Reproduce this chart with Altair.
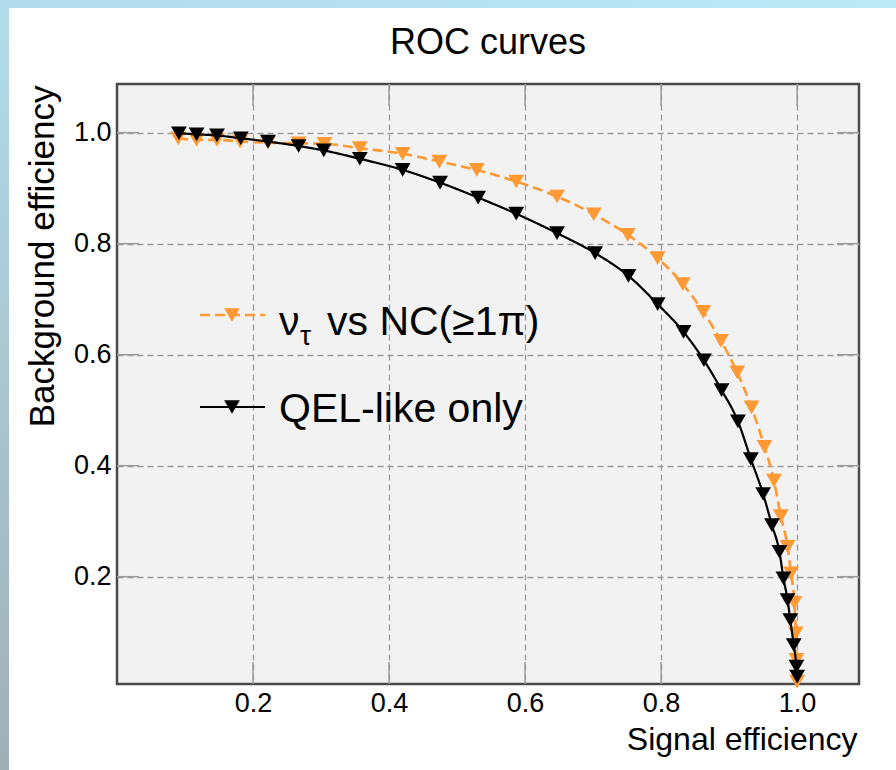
import altair as alt
import pandas as pd

# ---------------- data ----------------
series_names = ["ντ vs NC(≥1π)", "QEL-like only"]
series_colors = ["#ff9933", "#000000"]

nc_signal = [0.090, 0.117, 0.147, 0.181, 0.222, 0.267, 0.305, 0.357, 0.420, 0.474,
             0.529, 0.587, 0.647, 0.701, 0.751, 0.795, 0.832, 0.862, 0.888, 0.912,
             0.933, 0.952, 0.966, 0.976, 0.986, 0.991, 0.996, 0.998, 0.999, 1.000]
nc_background = [0.990, 0.987, 0.987, 0.984, 0.982, 0.981, 0.980, 0.972, 0.962, 0.948,
                 0.933, 0.912, 0.885, 0.853, 0.816, 0.774, 0.727, 0.677, 0.625, 0.568,
                 0.505, 0.434, 0.373, 0.309, 0.254, 0.206, 0.153, 0.098, 0.050, 0.011]

qel_signal = [0.091, 0.117, 0.147, 0.182, 0.222, 0.267, 0.304, 0.357, 0.420, 0.475,
              0.531, 0.587, 0.647, 0.703, 0.752, 0.795, 0.833, 0.863, 0.889, 0.913,
              0.932, 0.950, 0.963, 0.974, 0.980, 0.986, 0.990, 0.995, 0.999, 1.000]
qel_background = [0.999, 0.997, 0.995, 0.990, 0.984, 0.976, 0.968, 0.953, 0.933, 0.910,
                  0.883, 0.854, 0.819, 0.783, 0.742, 0.691, 0.641, 0.590, 0.536, 0.480,
                  0.412, 0.349, 0.293, 0.245, 0.197, 0.158, 0.122, 0.077, 0.038, 0.020]

x_tick_values = [0.2, 0.4, 0.6, 0.8, 1.0]
y_tick_values = [0.2, 0.4, 0.6, 0.8, 1.0]
x_domain = [0.0, 1.091]
y_domain = [0.0067, 1.0877]

# ---------------- layout / style ----------------
W, H = 742, 600
PAD = {"left": 117, "top": 84, "right": 37, "bottom": 86}
FONT = "Liberation Sans"
GRID = "#9a9a9a"
TICK_LEN = 22
MARKER = 250

xs = alt.Scale(domain=x_domain, nice=False, zero=False)
ys = alt.Scale(domain=y_domain, nice=False, zero=False)

x_axis = alt.Axis(
    values=x_tick_values, format=".1f", title="Signal efficiency",
    labelFont=FONT, labelFontSize=27, labelColor="black", labelPadding=6,
    domain=False, ticks=False, grid=True, gridDash=[6, 4], gridColor=GRID,
    gridWidth=1.3, titleFont=FONT, titleFontSize=32, titleFontWeight="normal",
    titleColor="black", titleAlign="right", titleBaseline="alphabetic",
    titleX=W - 2, titleY=65,
)
y_axis = alt.Axis(
    values=y_tick_values, format=".1f", title="Background efficiency",
    labelFont=FONT, labelFontSize=27, labelColor="black", labelPadding=6,
    domain=False, ticks=False, grid=True, gridDash=[6, 4], gridColor=GRID,
    gridWidth=1.3, titleFont=FONT, titleFontSize=35, titleFontWeight="normal",
    titleColor="black", titleAngle=270, titleAlign="right",
    titleBaseline="alphabetic", titleX=-64, titleY=1,
)

one = pd.DataFrame({"a": [0]})

# slide-like border bands
top_band = alt.Chart(one).mark_rect(
    color=alt.LinearGradient(gradient="linear", x1=0, y1=0, x2=1, y2=0,
                             stops=[alt.GradientStop(color="#b2dced", offset=0),
                                    alt.GradientStop(color="#bde8f6", offset=1)])
).encode(x=alt.value(-PAD["left"]), x2=alt.value(W + PAD["right"]),
         y=alt.value(-PAD["top"]), y2=alt.value(-PAD["top"] + 8))
left_band = alt.Chart(one).mark_rect(
    color=alt.LinearGradient(gradient="linear", x1=0, y1=0, x2=0, y2=1,
                             stops=[alt.GradientStop(color="#b2dced", offset=0),
                                    alt.GradientStop(color="#9fb0b7", offset=1)])
).encode(x=alt.value(-PAD["left"]), x2=alt.value(-PAD["left"] + 9),
         y=alt.value(-PAD["top"]), y2=alt.value(H + PAD["bottom"]))

# inward ticks (ROOT style)
xt = pd.DataFrame({"sig": x_tick_values})
yt = pd.DataFrame({"bkg": y_tick_values})
tick_style = dict(color=GRID, strokeWidth=1.5)
ticks_left = alt.Chart(yt).mark_rule(**tick_style).encode(
    y=alt.Y("bkg:Q", scale=ys, axis=y_axis), x=alt.value(0), x2=alt.value(TICK_LEN))
ticks_right = alt.Chart(yt).mark_rule(**tick_style).encode(
    y=alt.Y("bkg:Q", scale=ys, axis=y_axis), x=alt.value(W - TICK_LEN), x2=alt.value(W))
ticks_bottom = alt.Chart(xt).mark_rule(**tick_style).encode(
    x=alt.X("sig:Q", scale=xs, axis=x_axis), y=alt.value(H - TICK_LEN), y2=alt.value(H))
ticks_top = alt.Chart(xt).mark_rule(**tick_style).encode(
    x=alt.X("sig:Q", scale=xs, axis=x_axis), y=alt.value(0), y2=alt.value(TICK_LEN))

# curves
nc_df = pd.DataFrame({"sig": nc_signal, "bkg": nc_background,
                      "i": range(len(nc_signal))})
qel_df = pd.DataFrame({"sig": qel_signal, "bkg": qel_background,
                       "i": range(len(qel_signal))})

def curve(df, color, dash, width):
    xe = alt.X("sig:Q", scale=xs, axis=x_axis)
    ye = alt.Y("bkg:Q", scale=ys, axis=y_axis)
    line = alt.Chart(df).mark_line(color=color, strokeDash=dash, strokeWidth=width,
                                   interpolate="monotone").encode(x=xe, y=ye, order="i:O")
    pts = alt.Chart(df).mark_point(shape="triangle-down", filled=True, size=MARKER,
                                   opacity=1, color=color).encode(x=xe, y=ye)
    return line, pts

nc_line, nc_pts = curve(nc_df, series_colors[0], [10, 5], 2.6)
qel_line, qel_pts = curve(qel_df, series_colors[1], [1, 0], 2.2)

# legend (ROOT TLegend style) inside the frame
leg_x0, leg_x1, leg_sym = 83, 148, 115
leg_rows = [231, 323]
leg_text_base = [251, 338]
leg_dash = [[10, 5], [1, 0]]
leg_width = [2.6, 2.2]
legend_layers = []
for k, name in enumerate(series_names):
    c = series_colors[k]
    legend_layers.append(alt.Chart(one).mark_rule(color=c, strokeDash=leg_dash[k],
                                                  strokeWidth=leg_width[k]).encode(
        x=alt.value(leg_x0), x2=alt.value(leg_x1), y=alt.value(leg_rows[k])))
    legend_layers.append(alt.Chart(one).mark_point(shape="triangle-down", filled=True,
                                                   size=MARKER, opacity=1, color=c).encode(
        x=alt.value(leg_sym), y=alt.value(leg_rows[k])))
text_style = dict(font=FONT, fontSize=41, color="black", align="left",
                  baseline="alphabetic")
# first label: nu with tau subscript
legend_layers.append(alt.Chart(one).mark_text(**text_style).encode(
    x=alt.value(162), y=alt.value(leg_text_base[0]), text=alt.value(series_names[0][0])))
legend_layers.append(alt.Chart(one).mark_text(
    font=FONT, fontSize=28, color="black", align="left", baseline="alphabetic").encode(
    x=alt.value(183), y=alt.value(leg_text_base[0] + 10), text=alt.value(series_names[0][1])))
legend_layers.append(alt.Chart(one).mark_text(**text_style).encode(
    x=alt.value(210), y=alt.value(leg_text_base[0]),
    text=alt.value(series_names[0][2:].strip())))
legend_layers.append(alt.Chart(one).mark_text(**text_style).encode(
    x=alt.value(162), y=alt.value(leg_text_base[1]), text=alt.value(series_names[1])))

chart = alt.layer(
    top_band, left_band, ticks_left, ticks_right, ticks_bottom, ticks_top,
    nc_line, nc_pts, qel_line, qel_pts, *legend_layers,
).properties(
    width=W, height=H,
    title=alt.TitleParams("ROC curves", font=FONT, fontSize=36, fontWeight="normal",
                          color="black", anchor="middle", frame="group",
                          baseline="alphabetic", offset=0, dy=90),
    autosize=alt.AutoSizeParams(type="none"),
    padding=PAD,
    background="white",
).configure_view(
    fill="#f2f2f2", stroke="#4a4a4a", strokeWidth=2.5,
)

chart.save("out.html", embed_options={"renderer": "svg", "actions": False})
